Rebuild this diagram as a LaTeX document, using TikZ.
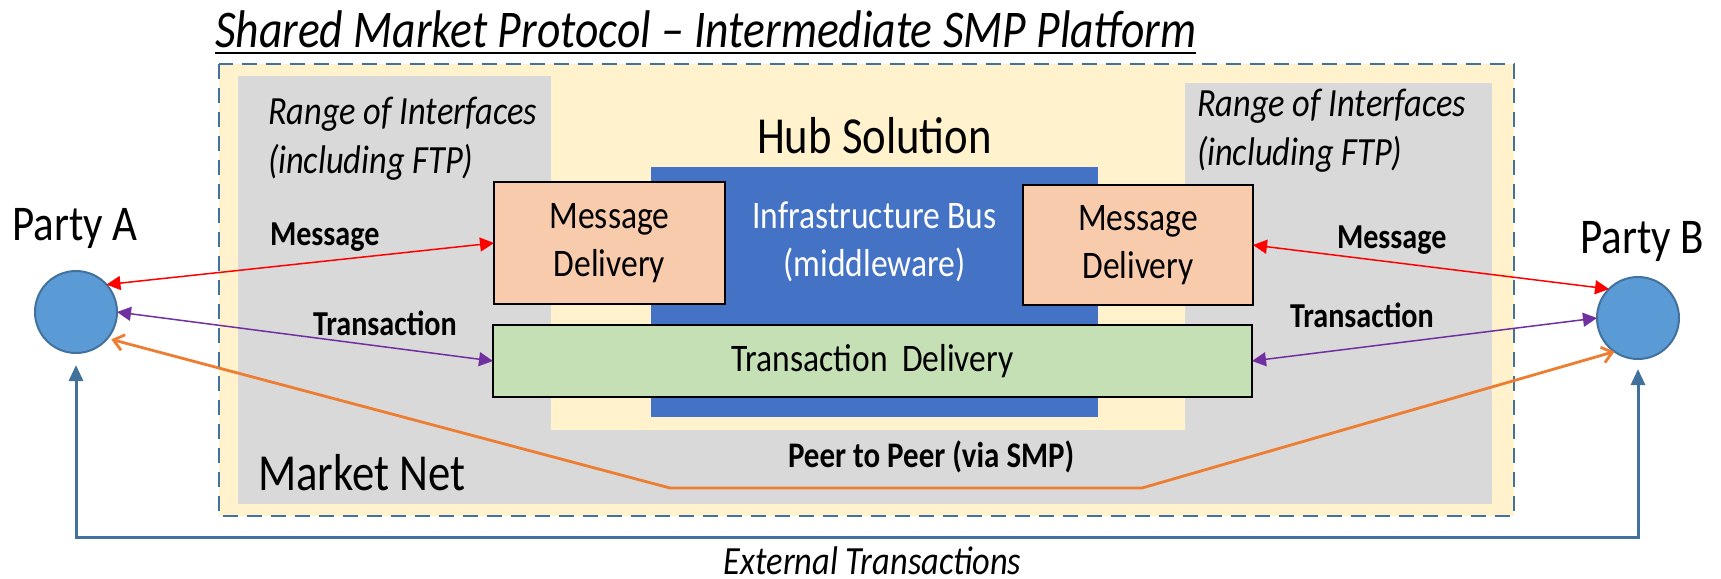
\documentclass[tikz,border=0pt]{standalone}
\usepackage{fontspec}
\setmainfont{Carlito}[FakeStretch=0.86]
\usetikzlibrary{arrows.meta}
\definecolor{panelyellow}{HTML}{FFF2CC}
\definecolor{panelgray}{HTML}{D9D9D9}
\definecolor{busblue}{HTML}{4472C4}
\definecolor{msgfill}{HTML}{F8CBAD}
\definecolor{txfill}{HTML}{C5E0B4}
\definecolor{partyfill}{HTML}{5B9BD5}
\definecolor{edgeblue}{HTML}{41719C}
\definecolor{msgred}{HTML}{FF0000}
\definecolor{txpurple}{HTML}{7030A0}
\definecolor{p2porange}{HTML}{ED7D31}

\begin{document}
\begin{tikzpicture}[x=0.5pt,y=-0.5pt,
  every node/.style={inner sep=0pt, outer sep=0pt},
  party/.style={circle, fill=partyfill, draw=edgeblue, line width=1pt, minimum size=41pt},
  partylabel/.style={font=\fontsize{25}{30}\selectfont, anchor=base},
  deliverybox/.style={draw=black, line width=1.3pt, align=center, font=\fontsize{19.5}{24}\selectfont},
  msgbox/.style={deliverybox, fill=msgfill, minimum width=115.5pt, minimum height=61pt},
  txbox/.style={deliverybox, fill=txfill, minimum width=379.5pt, minimum height=36pt},
  flowlabel/.style={font=\bfseries\fontsize{17.5}{21}\selectfont, anchor=base west},
  bigtext/.style={font=\fontsize{26}{31}\selectfont},
  rangetext/.style={font=\itshape\fontsize{20}{24.5}\selectfont, align=left, anchor=base west},
  msgflow/.style={draw=msgred, line width=0.75pt, arrows={Triangle[length=7pt,width=7pt]-Triangle[length=7pt,width=7pt]}},
  txflow/.style={draw=txpurple, line width=0.75pt, arrows={Triangle[length=7pt,width=7pt]-Triangle[length=7pt,width=7pt]}},
  p2pflow/.style={draw=p2porange, line width=1.4pt, arrows={Straight Barb[length=5pt,width=8pt]-Straight Barb[length=5pt,width=8pt]}},
  extflow/.style={draw=edgeblue, line width=1.5pt, arrows={Triangle[length=8pt,width=7pt]-Triangle[length=8pt,width=7pt]}}
]
\useasboundingbox (0,0) rectangle (1721,579);

% title
\node[font=\itshape\fontsize{26.5}{31}\selectfont, anchor=base west] (title) at (215,47)
  {Shared Market Protocol – Intermediate SMP Platform};
\draw[line width=1pt] ([yshift=-3pt]title.base west) -- ([yshift=-3pt]title.base east);

% platform frame and interface panels
\draw[fill=panelyellow, draw=edgeblue, line width=1.25pt, dash pattern=on 7.5pt off 4.5pt]
  (219,64) rectangle (1514,516);
\fill[panelgray] (238,76) rectangle (551,504);
\fill[panelgray] (1185,83) rectangle (1492,504);
\fill[panelgray] (238,430) rectangle (1492,504);

% hub
\node[bigtext, anchor=base] (hub) at (874.5,153) {Hub Solution};
\node[fill=busblue, minimum width=223.5pt, minimum height=125pt] (bus) at (874.5,292) {};
\node[text=white, align=center, font=\fontsize{19.5}{24}\selectfont] (bustext) at (874.5,242)
  {Infrastructure Bus\\(middleware)};
\node[msgbox] (msgL) at (609.5,243) {Message\\Delivery};
\node[msgbox, minimum width=115pt, minimum height=60pt] (msgR) at (1138,245) {Message\\Delivery};
\node[txbox] (tx) at (872.5,361) {Transaction\hspace{3.5pt} Delivery};

% panel texts (anchored at the baseline of the second line)
\node[rangetext] (rangeL) at (268,173) {Range of Interfaces\\(including FTP)};
\node[rangetext] (rangeR) at (1197,165) {Range of Interfaces\\(including FTP)};
\node[bigtext, anchor=base west] (mnet) at (258,490) {Market Net};

% parties
\node[party] (A) at (76,312) {};
\node[party] (B) at (1638,318) {};
\node[partylabel] (labelA) at (75,240) {Party A};
\node[partylabel] (labelB) at (1642,253) {Party B};

% flow labels
\node[flowlabel] (msgLabL) at (270,245) {Message};
\node[flowlabel] (msgLabR) at (1337,248) {Message};
\node[flowlabel] (txLabL) at (313,335) {Transaction};
\node[flowlabel] (txLabR) at (1290,327) {Transaction};
\node[flowlabel, font=\bfseries\fontsize{18}{21}\selectfont] (p2pLab) at (788,467) {Peer to Peer (via SMP)};
\node[font=\itshape\fontsize{20}{24}\selectfont, anchor=base] (extLab) at (872.5,574) {External Transactions};

% connectors
\draw[msgflow] (A.42) -- (msgL.west);
\draw[msgflow] (msgR.east) -- (B.135);
\draw[txflow] (A.0) -- (tx.west);
\draw[txflow] (tx.east) -- (B.180);
\coordinate (p2pL) at (670,488);
\coordinate (p2pR) at (1142,488);
\draw[p2pflow, shorten <=2pt] (A.-40) -- (p2pL) -- (p2pR) -- (B.-125);
\coordinate (extRoute) at (0,537);
\draw[extflow, shorten <=6pt, shorten >=5pt]
  (A.south) -- (A.south |- extRoute) -- (B.south |- extRoute) -- (B.south);
\end{tikzpicture}
\end{document}
